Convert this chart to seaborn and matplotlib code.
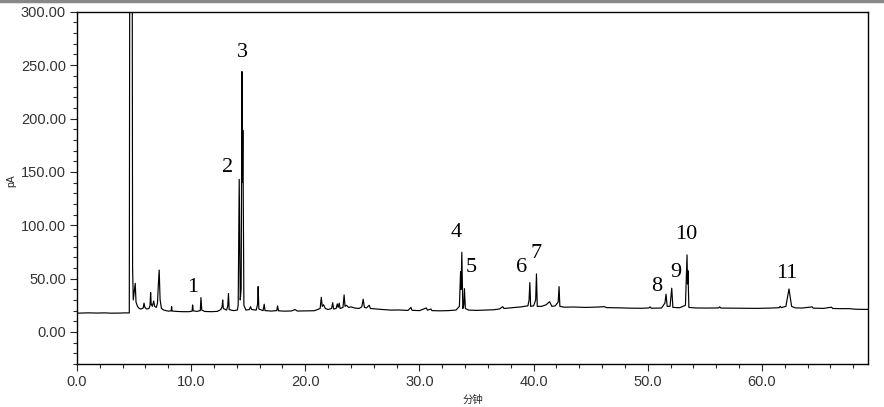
import numpy as np
import pandas as pd
import matplotlib
matplotlib.use("Agg")
import matplotlib.pyplot as plt
from matplotlib.lines import Line2D
from matplotlib.ticker import MultipleLocator, FormatStrFormatter
import seaborn as sns

# chromatogram trace (minutes, pA)
time_min = [
    0.0, 0.5, 1.0, 1.8, 2.4, 3.0, 3.8, 4.2, 4.58, 4.64, 4.82, 4.87, 4.93, 5.02, 5.1,
    5.17, 5.3, 5.45, 5.6, 5.8, 5.87, 5.95, 6.1, 6.3, 6.4, 6.45, 6.5, 6.6, 6.72, 6.8,
    6.95, 7.05, 7.12, 7.2, 7.28, 7.4, 7.6, 8.0, 8.25, 8.29, 8.33, 8.8, 9.3, 9.8,
    10.08, 10.13, 10.18, 10.5, 10.8, 10.86, 10.93, 11.2, 11.8, 12.3, 12.6, 12.72,
    12.76, 12.82, 13.1, 13.2, 13.27, 13.33, 13.7, 14.05, 14.12, 14.21, 14.3, 14.38,
    14.45, 14.49, 14.53, 14.62, 14.8, 15.1, 15.2, 15.3, 15.7, 15.82, 15.87, 15.93,
    16.3, 16.4, 16.47, 17.0, 17.5, 17.57, 17.65, 18.2, 18.8, 19.1, 19.3, 20.0, 20.8,
    21.3, 21.4, 21.48, 21.6, 21.75, 22.0, 22.3, 22.4, 22.48, 22.7, 22.8, 22.88,
    22.97, 23.05, 23.3, 23.4, 23.48, 23.6, 23.8, 24.0, 24.3, 24.7, 24.95, 25.07,
    25.18, 25.35, 25.6, 25.7, 26.2, 26.8, 27.5, 28.2, 29.0, 29.25, 29.35, 30.0, 30.6,
    30.7, 31.0, 31.1, 31.8, 32.5, 33.2, 33.5, 33.6, 33.65, 33.71, 33.8, 33.88, 33.94,
    34.02, 34.3, 35.0, 35.8, 36.5, 37.0, 37.3, 37.4, 37.9, 38.5, 38.9, 39.2, 39.5,
    39.6, 39.67, 39.74, 40.0, 40.18, 40.25, 40.32, 40.7, 41.1, 41.4, 41.6, 41.9,
    42.15, 42.23, 42.3, 42.7, 43.5, 44.5, 45.5, 46.2, 46.4, 47.5, 48.5, 49.5, 50.1,
    50.2, 50.3, 51.2, 51.5, 51.6, 51.7, 51.95, 52.1, 52.2, 52.8, 53.3, 53.44, 53.48,
    53.52, 53.6, 54.2, 55.0, 56.2, 56.3, 56.4, 57.5, 58.5, 59.5, 60.5, 61.5, 61.6,
    61.7, 62.1, 62.37, 62.6, 62.9, 63.5, 64.4, 64.5, 65.4, 66.1, 66.2, 67.0, 67.6,
    68.2, 69.3,
]
signal_pa = [
    17.6, 17.8, 17.9, 17.7, 17.9, 17.6, 17.7, 17.9, 17.8, 500, 500, 60, 30, 38, 45.6,
    28, 24, 22, 21.5, 22.5, 27, 23, 21.5, 22, 25, 36.9, 26, 24, 29, 24,
    23, 27, 43, 58, 30, 22, 20.5, 19.5, 19.8, 23.7, 19.6, 19.2, 19.0, 19.0,
    19.5, 25.3, 19.8, 19.3, 20, 32.2, 20.5, 19.2, 19.0, 19.3, 21, 24,
    30, 22, 20.5, 24, 36, 21, 20, 20.5, 25, 143, 30, 40,
    244, 140, 189, 25, 20.5, 21, 23.7, 21, 20.5, 26, 42.5, 21.5,
    20, 26, 20, 19.6, 20, 24.4, 19.8, 19.5, 19.7, 21, 19.6, 19.7, 19.9,
    22, 32.5, 24, 25.5, 22, 21, 22, 27.5, 21.5, 22, 26.3, 23,
    27, 22, 23, 34.7, 24, 25, 23, 23.5, 22.5, 22, 23.5, 30.7,
    23, 22.5, 25, 22, 21.5, 21, 20.5, 20.6, 20.2, 23, 20.3, 20, 22.5,
    20.4, 21.5, 20, 19.8, 20, 20.5, 24, 56.5, 40, 74.7, 22, 25, 40.6,
    22, 20.5, 20.2, 20.5, 20.8, 21.5, 23.7, 22, 22.5, 23, 23.5, 24, 24.5,
    30, 46.3, 24, 24.5, 30, 54.4, 24, 24, 25.5, 28.4, 24, 24.5,
    28, 42.5, 24, 23.2, 23.4, 23, 23.3, 23.7, 22.8, 22.6, 22.3, 22.2, 22.5,
    23.5, 22.3, 22.4, 27, 35.4, 24, 24, 41, 23, 22.7, 25, 72.2, 45,
    57.5, 23, 22.5, 22.4, 22.5, 23.5, 22.4, 22.3, 22.2, 22.1, 22.3, 22.7, 24,
    22.8, 24, 40.3, 24, 22.6, 22.4, 23.5, 22.3, 22.1, 23.2, 22, 21.8, 21.9,
    21.3, 21.1,
]

# peak numbers and where they are written (minutes, pA)
peak_labels = ["1", "2", "3", "4", "5", "6", "7", "8", "9", "10", "11"]
label_t = [10.1, 13.2, 14.45, 33.25, 34.56, 38.94, 40.25, 50.8, 52.45, 53.4, 62.2]
label_v = [42, 154, 262, 92.8, 60, 60, 73.8, 43, 56, 91.6, 54.4]

df = pd.DataFrame({"t": time_min, "pA": signal_pa})

sns.set_style("ticks")
plt.rcParams['font.family'] = ['Liberation Sans', 'Noto Sans CJK SC', 'DejaVu Sans']

fig = plt.figure(figsize=(8.84, 4.07), dpi=100)
ax = fig.add_axes([0.0871, 0.1057, 0.982 - 0.0871, 0.971 - 0.1057])

sns.lineplot(data=df, x="t", y="pA", ax=ax, color="black", linewidth=0.85,
             estimator=None, sort=False)

for lab, t, v in zip(peak_labels, label_t, label_v):
    ax.text(t, v, lab, ha="center", va="center", fontsize=16,
            family="Liberation Serif", color="black")

ax.set_xlim(0, 69.3)
ax.set_ylim(-30, 300)
ax.xaxis.set_major_locator(MultipleLocator(10))
ax.xaxis.set_minor_locator(MultipleLocator(2))
ax.yaxis.set_major_locator(MultipleLocator(50))
ax.yaxis.set_minor_locator(MultipleLocator(10))
ax.xaxis.set_major_formatter(FormatStrFormatter("%.1f"))
ax.yaxis.set_major_formatter(FormatStrFormatter("%.2f"))
ax.tick_params(axis="both", which="major", length=5, width=0.8, labelsize=10.5,
               labelcolor="#333333", pad=3, direction="out")
ax.tick_params(axis="both", which="minor", length=3, width=0.8, direction="out")
for s in ax.spines.values():
    s.set_color("black")
    s.set_linewidth(1.0)

ax.set_xlabel("分钟", family=["Noto Sans CJK SC", "DejaVu Sans"], fontsize=7.5, labelpad=4)
ax.set_ylabel("pA", fontsize=7.5)
ax.yaxis.set_label_coords(-0.077, 0.52)

fig.add_artist(Line2D([0, 1], [0.997, 0.997], color="#888888", lw=2.5,
                      transform=fig.transFigure))

fig.savefig("out.png", dpi=100)
